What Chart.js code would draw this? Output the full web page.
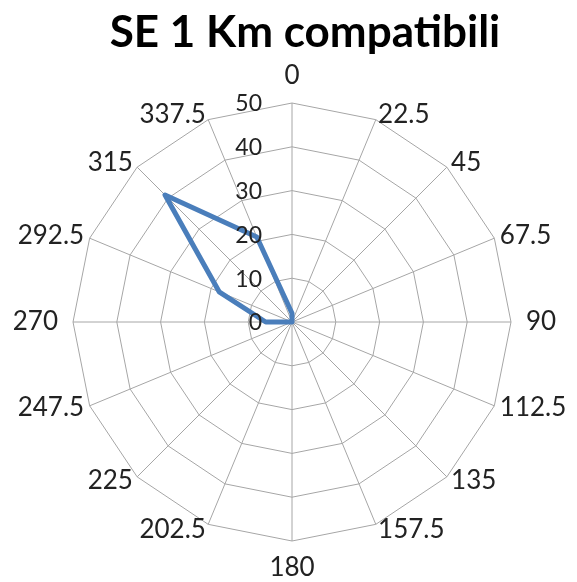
<!DOCTYPE html>
<html>
<head>
<meta charset="utf-8">
<script src="https://cdn.jsdelivr.net/npm/chart.js@4"></script>
<style>
  html, body { margin: 0; padding: 0; background: #fff; }
  .wrap { width: 577px; height: 582px; }
</style>
</head>
<body>
<div class="wrap"><canvas id="radarChart"></canvas></div>
<script>
// Directions (degrees) and values
const directions = ['0', '22.5', '45', '67.5', '90', '112.5', '135', '157.5',
  '180', '202.5', '225', '247.5', '270', '292.5', '315', '337.5'];
const values = [2, 0, 0, 0, 0, 0, 0, 0, 0, 0, 0, 0, 6, 18, 41, 21];
const tickValues = [0, 10, 20, 30, 40, 50];

const FONT = "Lato, 'Open Sans', sans-serif";
const LABEL_SIZE = 26;

// Tick labels sit to the left of the vertical axis, Excel style
const tickLabelPlugin = {
  id: 'tickLabels',
  afterDatasetsDraw(chart) {
    const scale = chart.scales.r;
    const ctx = chart.ctx;
    ctx.save();
    ctx.font = `23px ${FONT}`;
    ctx.fillStyle = '#222';
    ctx.textAlign = 'right';
    ctx.textBaseline = 'middle';
    tickValues.forEach(v => {
      const p = scale.getPointPositionForValue(0, v);
      ctx.fillText(String(v), p.x - 30, p.y + 1);
    });
    ctx.restore();
  }
};

// Direction labels: vertically centred on the spoke end, like Excel does
const pointLabelPlugin = {
  id: 'directionLabels',
  afterDraw(chart) {
    const scale = chart.scales.r;
    const ctx = chart.ctx;
    ctx.save();
    ctx.font = `${LABEL_SIZE}px ${FONT}`;
    ctx.fillStyle = '#222';
    ctx.textBaseline = 'middle';
    directions.forEach((label, i) => {
      const deg = parseFloat(label);
      if (deg === 0 || deg === 180) {
        const p = scale.getPointPosition(i, scale.drawingArea + 14 + LABEL_SIZE / 2);
        ctx.textAlign = 'center';
        ctx.fillText(label, p.x, p.y);
      } else {
        const gap = (deg === 90 || deg === 270) ? 15 : 6;
        const p = scale.getPointPosition(i, scale.drawingArea + gap);
        ctx.textAlign = deg < 180 ? 'left' : 'right';
        ctx.fillText(label, p.x, p.y);
      }
    });
    ctx.restore();
  }
};

// The title in the original sits a bit right of the canvas centre
const titleShiftPlugin = {
  id: 'titleShift',
  afterLayout(chart) {
    const t = chart.titleBlock;
    if (!t) return;
    const shift = 305 - (t.left + t.right) / 2;
    t.left += shift;
    t.right += shift;
  }
};

const ctx = document.getElementById('radarChart').getContext('2d');
new Chart(ctx, {
  type: 'radar',
  data: {
    labels: directions,
    datasets: [{
      data: values,
      borderColor: '#4a7ebb',
      borderWidth: 5,
      backgroundColor: 'rgba(0,0,0,0)',
      fill: false,
      pointRadius: 0,
      tension: 0,
      borderJoinStyle: 'round'
    }]
  },
  options: {
    responsive: true,
    maintainAspectRatio: false,
    animation: false,
    layout: { padding: { top: 0, bottom: 40, left: 8, right: 0 } },
    plugins: {
      legend: { display: false },
      tooltip: { enabled: false },
      title: {
        display: true,
        text: 'SE 1 Km compatibili',
        color: '#000',
        font: { family: FONT, size: 44, weight: 'bold', lineHeight: 1.2 },
        padding: { top: 6, bottom: 45 }
      }
    },
    scales: {
      r: {
        min: 0,
        max: 50,
        ticks: { stepSize: 10, display: false },
        grid: { color: '#a6a6a6', lineWidth: 1 },
        angleLines: { color: '#a6a6a6', lineWidth: 1 },
        pointLabels: { display: false }
      }
    }
  },
  plugins: [tickLabelPlugin, pointLabelPlugin, titleShiftPlugin]
});
</script>
</body>
</html>
